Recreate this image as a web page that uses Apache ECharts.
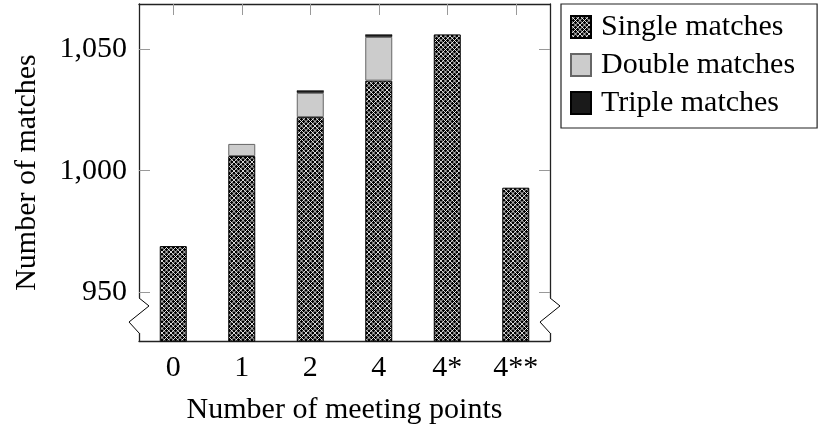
<!DOCTYPE html>
<html>
<head>
<meta charset="utf-8">
<script src="https://cdn.jsdelivr.net/npm/echarts@6/dist/echarts.min.js"></script>
<style>html,body{margin:0;padding:0;background:#fff;}#c{width:819px;height:430px;}</style>
</head>
<body>
<div id="c"></div>
<script>
const categories = ['0', '1', '2', '4', '4*', '4**'];
const singleMatches = [969, 1006, 1022, 1037, 1056, 993];
const doubleMatches = [null, 5, 10, 18, null, null];
const tripleMatches = [null, null, 1, 1, null, null];
const yTicks = [950, 1000, 1050];
const yMin = 930, yMax = 1068.5;
const breakVals = [947.7, 944.4, 937.8, 933.3];

function makePattern() {
  const s = 9;
  const cv = document.createElement('canvas');
  cv.width = s; cv.height = s;
  const g = cv.getContext('2d');
  g.fillStyle = '#000';
  g.fillRect(0, 0, s, s);
  g.strokeStyle = '#fff';
  g.lineWidth = 0.85;
  for (let k = -2; k <= 4; k++) {
    const o = k * 4.5;
    g.beginPath(); g.moveTo(o - 20, -20); g.lineTo(o + 20, 20); g.stroke();
    g.beginPath(); g.moveTo(o + 20, -20); g.lineTo(o - 20, 20); g.stroke();
  }
  return cv;
}
const pattern = { image: makePattern(), repeat: 'repeat' };

const FONT = 'Liberation Serif';
const FS = 30;
const chart = echarts.init(document.getElementById('c'), null, { renderer: 'canvas' });
const tickStyle = { show: true, inside: true, length: 11, lineStyle: { color: '#999', width: 1 } };
const lineStyle = { show: true, lineStyle: { color: '#222', width: 1.3 } };

chart.setOption({
  animation: false,
  backgroundColor: '#fff',
  textStyle: { fontFamily: FONT, color: '#000' },
  grid: { left: 139, right: 269, top: 4, bottom: 89, containLabel: false, outerBoundsMode: 'none' },
  legend: {
    orient: 'vertical',
    left: 561, top: 4,
    itemWidth: 20, itemHeight: 22, itemGap: 8,
    padding: [8, 22, 10, 9],
    borderColor: '#222', borderWidth: 1.2, borderRadius: 0,
    icon: 'rect',
    textStyle: { fontFamily: FONT, fontSize: FS, color: '#000', padding: [0, 0, 0, 5] },
    data: ['Single matches', 'Double matches', 'Triple matches']
  },
  xAxis: [
    { type: 'category', data: categories, position: 'bottom',
      axisLine: lineStyle, axisTick: Object.assign({ alignWithLabel: true }, tickStyle),
      axisLabel: { fontFamily: FONT, fontSize: FS, color: '#000', margin: 12 },
      name: 'Number of meeting points', nameLocation: 'middle', nameGap: 54,
      nameTextStyle: { fontFamily: FONT, fontSize: FS, color: '#000' } },
    { type: 'category', data: categories, position: 'top',
      axisLine: lineStyle, axisTick: Object.assign({ alignWithLabel: true }, tickStyle),
      axisLabel: { show: false } }
  ],
  yAxis: [
    { type: 'value', min: yMin, max: yMax, position: 'left',
      axisLine: lineStyle,
      axisTick: Object.assign({ customValues: yTicks }, tickStyle),
      splitLine: { show: false },
      axisLabel: { customValues: yTicks, fontFamily: FONT, fontSize: FS, color: '#000', margin: 12,
        formatter: v => v.toLocaleString('en-US') },
      name: 'Number of matches', nameLocation: 'middle', nameGap: 97, nameRotate: 90,
      nameTextStyle: { fontFamily: FONT, fontSize: FS, color: '#000' } },
    { type: 'value', min: yMin, max: yMax, position: 'right',
      axisLine: lineStyle,
      axisTick: Object.assign({ customValues: yTicks }, tickStyle),
      splitLine: { show: false },
      axisLabel: { show: false } }
  ],
  series: [
    { name: 'Single matches', type: 'bar', stack: 'm', barWidth: 27, data: singleMatches,
      itemStyle: { color: pattern, borderColor: '#000', borderWidth: 1 } },
    { name: 'Double matches', type: 'bar', stack: 'm', barWidth: 27, data: doubleMatches,
      itemStyle: { color: '#cccccc', borderColor: '#666', borderWidth: 1 } },
    { name: 'Triple matches', type: 'bar', stack: 'm', barWidth: 27, data: tripleMatches,
      itemStyle: { color: '#1a1a1a', borderColor: '#000', borderWidth: 0.5 } }
  ]
});

function drawBreaks() {
  const ys = breakVals.map(v => chart.convertToPixel({ yAxisIndex: 0 }, v));
  const rect = chart.getModel().getComponent('grid', 0).coordinateSystem.getRect();
  const xs = [rect.x, rect.x + rect.width];
  const elems = [];
  xs.forEach(x => {
    elems.push({ type: 'rect', z: 100, silent: true,
      shape: { x: x - 2, y: ys[0], width: 4, height: ys[3] - ys[0] },
      style: { fill: '#fff' } });
    elems.push({ type: 'polyline', z: 101, silent: true,
      shape: { points: [[x, ys[0]], [x + 10, ys[1]], [x - 10, ys[2]], [x, ys[3]]] },
      style: { stroke: '#000', lineWidth: 1, fill: null } });
  });
  chart.setOption({ graphic: elems });
}
drawBreaks();
</script>
</body>
</html>
